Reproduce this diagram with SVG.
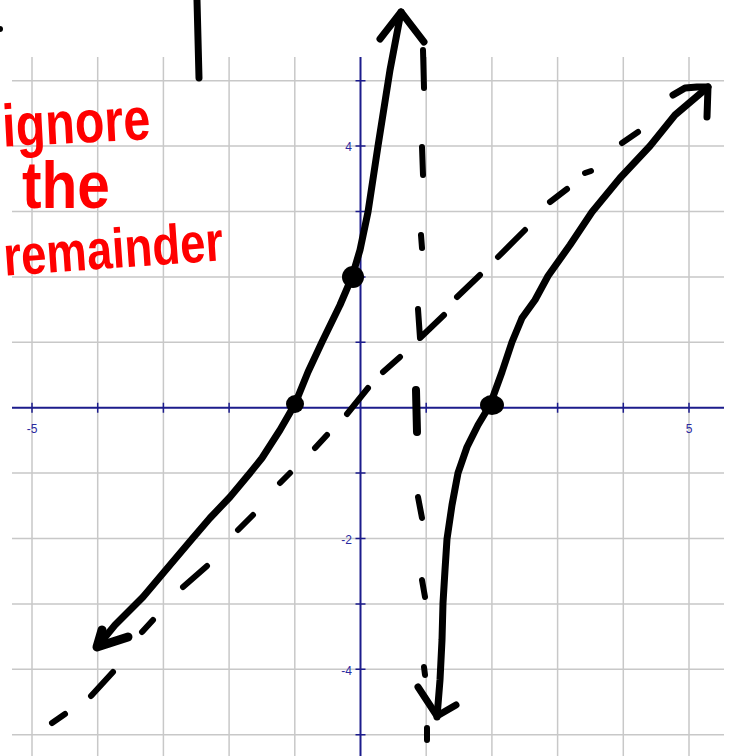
<svg xmlns="http://www.w3.org/2000/svg" width="730" height="756" viewBox="0 0 730 756">
<style>
.grid{stroke:#c8c8c8;stroke-width:1.5;fill:none}
.axis{stroke:#1c1c8c;stroke-width:2;fill:none}
.tick{stroke:#1c1c8c;stroke-width:1.5;fill:none}
.lbl{font-family:"Liberation Sans",Arial,sans-serif;font-size:12px;fill:#2a2aa0}
.ink{stroke:#000;stroke-width:7;fill:none;stroke-linecap:round;stroke-linejoin:round}
.dash{stroke:#000;stroke-width:6;fill:none;stroke-linecap:round;stroke-linejoin:round}
.red{font-family:"Liberation Sans",Arial,sans-serif;font-weight:bold;fill:#ff0000}
</style>
<rect width="730" height="756" fill="#ffffff"/>
<g id="grid" class="grid">
<path d="M32,57V756M97.7,57V756M163.4,57V756M229.1,57V756M294.8,57V756M426.2,57V756M491.9,57V756M557.6,57V756M623.3,57V756M689,57V756"/>
<path d="M12,80.7H724M12,146.1H724M12,211.5H724M12,276.9H724M12,342.3H724M12,473.1H724M12,538.5H724M12,603.9H724M12,669.3H724M12,734.7H724"/>
</g>
<g id="axes">
<path class="axis" d="M12,407.7H724M360.5,57V756"/>
<path class="tick" d="M32,402.7v10M97.7,402.7v10M163.4,402.7v10M229.1,402.7v10M294.8,402.7v10M426.2,402.7v10M491.9,402.7v10M557.6,402.7v10M623.3,402.7v10M689,402.7v10"/>
<path class="tick" d="M355.5,80.7h10M355.5,146.1h10M355.5,211.5h10M355.5,276.9h10M355.5,342.3h10M355.5,473.1h10M355.5,538.5h10M355.5,603.9h10M355.5,669.3h10M355.5,734.7h10"/>
</g>
<g id="axis-labels" class="lbl">
<text x="32" y="433" text-anchor="middle">-5</text>
<text x="689" y="433" text-anchor="middle">5</text>
<text x="352" y="151" text-anchor="end">4</text>
<text x="352" y="544" text-anchor="end">-2</text>
<text x="352" y="675" text-anchor="end">-4</text>
</g>
<g id="asymptotes" class="dash">
<path d="M52,723L65,714M91,696L113,672M142,632L153,620M183,587L207,566M238,530L253,515M280,483L290,473M315,448L327,435M347,414L368,388M383,372L400,357M457,297L480,275M498,257L525,230M550,202L567,189M585,173L591,171M622,143L638,132"/>
<path d="M418,309L420,338L444,315"/>
<path d="M423,50L424,88M422,147L423,175M421,235L422,248M418,497L422,518M422,580L425,597M424,667L425,675M427,728L427,740"/>
<path d="M416,390L417,432" style="stroke-width:8"/>
</g>
<g id="curves" class="ink">
<path d="M197,0L199,78"/>
<circle cx="0" cy="29" r="3" fill="#000" stroke="none"/>
<polyline points="401,12 390,70 378,146 368,212 360,250 352,277 340,305 322,342 308,372 295,404 280,430 262,458 250,473 230,497 210,518 192,539 170,565 143,597 115,625 97,647"/>
<path d="M380,39L401,12L424,42"/>
<path d="M102,630L97,647L128,637" style="stroke-width:9"/>
<polyline points="437,717 440,680 442,640 443,603 445,570 447,539 452,505 458,473 467,447 478,425 490,405 502,372 512,342 522,318 535,300 548,276 570,245 592,212 620,178 650,146 675,115 708,87"/>
<path d="M418,687L437,716L456,705"/>
<path d="M673,95L685,88L697,87L708,87L707,117"/>
<circle cx="353" cy="277" r="11" fill="#000" stroke="none"/>
<circle cx="295" cy="404" r="9" fill="#000" stroke="none"/>
<ellipse cx="492" cy="405" rx="12" ry="10" fill="#000" stroke="none"/>
</g>
<g id="note" class="red">
<text x="3" y="143" font-size="60" textLength="148" lengthAdjust="spacingAndGlyphs" transform="rotate(-3 75 140)">ignore</text>
<text x="22" y="208" font-size="66" textLength="88" lengthAdjust="spacingAndGlyphs">the</text>
<text x="4" y="268" font-size="56" textLength="220" lengthAdjust="spacingAndGlyphs" transform="rotate(-4 114 262)">remainder</text>
</g>
</svg>
